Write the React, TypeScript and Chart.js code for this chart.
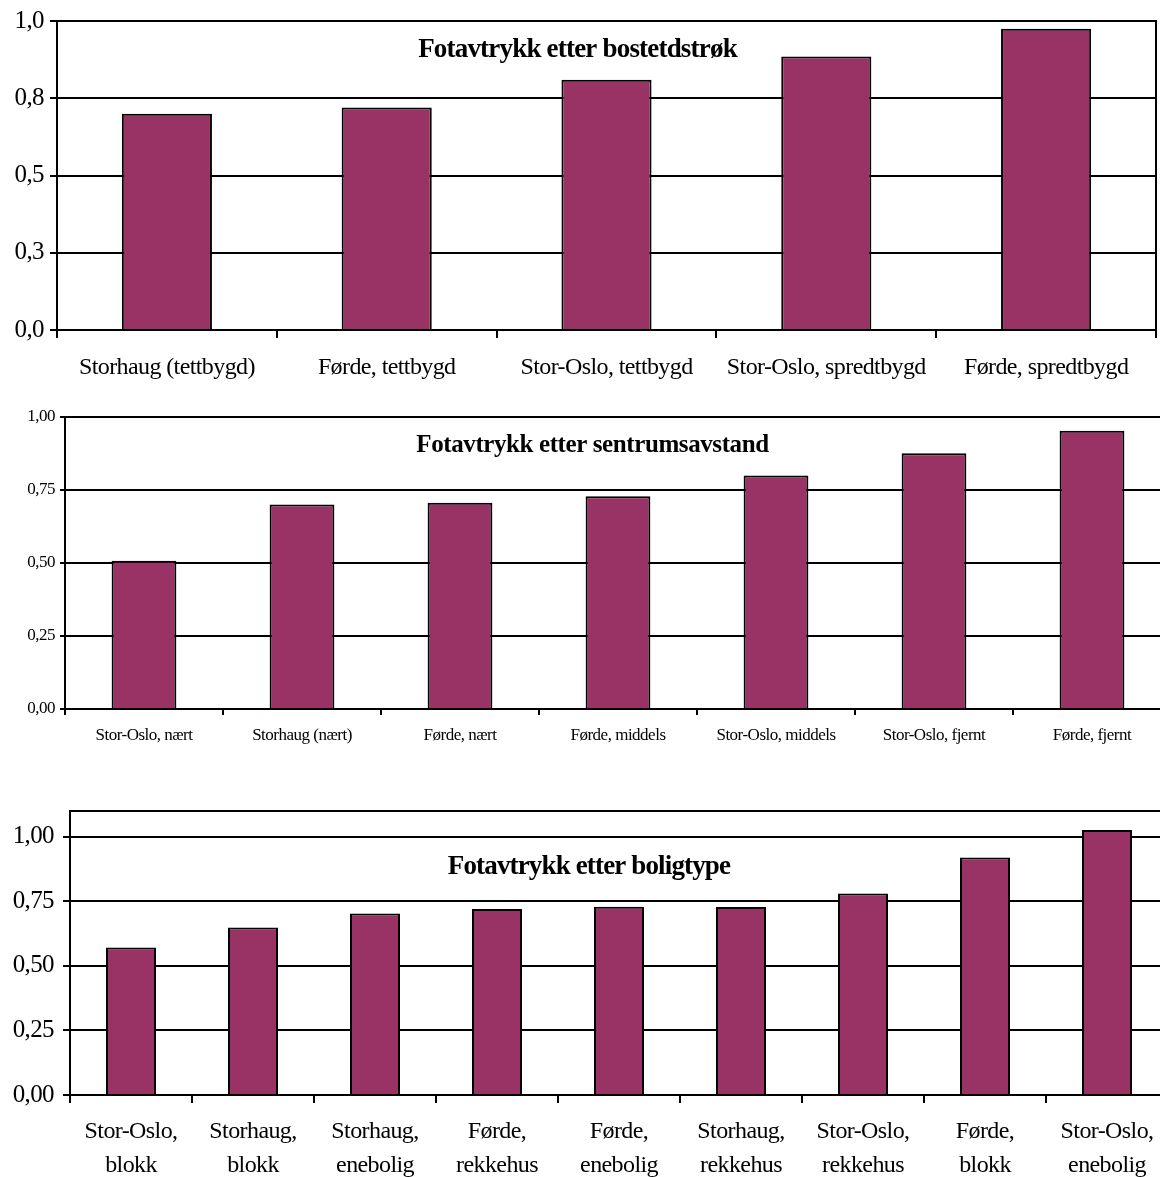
import React, { useEffect, useRef } from 'react';
import { Chart, registerables } from 'chart.js';

Chart.register(...registerables);

const SERIF = "'Liberation Serif', 'Times New Roman', Times, serif";
const BAR_COLOR = '#993366';

// ---- Chart 1: Fotavtrykk etter bostetdstrøk
const title1 = 'Fotavtrykk etter bostetdstrøk';
const categories1 = [
  'Storhaug (tettbygd)',
  'Førde, tettbygd',
  'Stor-Oslo, tettbygd',
  'Stor-Oslo, spredtbygd',
  'Førde, spredtbygd',
];
const values1 = [0.7, 0.72, 0.81, 0.885, 0.975];
const yTicks1 = [0, 0.25, 0.5, 0.75, 1.0];
const yTickLabels1 = ['0,0', '0,3', '0,5', '0,8', '1,0'];

// ---- Chart 2: Fotavtrykk etter sentrumsavstand
const title2 = 'Fotavtrykk etter sentrumsavstand';
const categories2 = [
  'Stor-Oslo, nært',
  'Storhaug (nært)',
  'Førde, nært',
  'Førde, middels',
  'Stor-Oslo, middels',
  'Stor-Oslo, fjernt',
  'Førde, fjernt',
];
const values2 = [0.508, 0.7, 0.706, 0.729, 0.8, 0.876, 0.953];
const yTicks2 = [0, 0.25, 0.5, 0.75, 1.0];
const yTickLabels2 = ['0,00', '0,25', '0,50', '0,75', '1,00'];

// ---- Chart 3: Fotavtrykk etter boligtype
const title3 = 'Fotavtrykk etter boligtype';
const categories3 = [
  ['Stor-Oslo,', 'blokk'],
  ['Storhaug,', 'blokk'],
  ['Storhaug,', 'enebolig'],
  ['Førde,', 'rekkehus'],
  ['Førde,', 'enebolig'],
  ['Storhaug,', 'rekkehus'],
  ['Stor-Oslo,', 'rekkehus'],
  ['Førde,', 'blokk'],
  ['Stor-Oslo,', 'enebolig'],
];
const values3 = [0.571, 0.649, 0.703, 0.72, 0.729, 0.728, 0.78, 0.92, 1.026];
const yTicks3 = [0, 0.25, 0.5, 0.75, 1.0];
const yTickLabels3 = ['0,00', '0,25', '0,50', '0,75', '1,00'];

type PanelCfg = {
  top: number;
  width: number;
  height: number;
  title: string;
  titleSize: number;
  titleSpacing: number;
  titleDx: number;
  titleDy: number;
  labels: any[];
  values: number[];
  yMax: number;
  yTicks: number[];
  yLabels: string[];
  padTop: number;
  padRight: number;
  yWidth: number;
  xHeight: number;
  xFont: number;
  xLineHeight: number;
  xPad: number;
  xTick: number;
  yFont: number;
  yPad: number;
  yTick: number;
  spacing: number;
};

function BarPanel({ cfg }: { cfg: PanelCfg }) {
  const ref = useRef<HTMLCanvasElement>(null);

  useEffect(() => {
    const canvas = ref.current;
    if (!canvas) return;
    const c = cfg;

    const spacingPlugin = {
      id: 'letterSpacing',
      beforeUpdate(chart: any) {
        chart.ctx.letterSpacing = c.spacing + 'px';
      },
      beforeLayout(chart: any) {
        chart.ctx.letterSpacing = c.spacing + 'px';
      },
      beforeDraw(chart: any) {
        chart.ctx.letterSpacing = c.spacing + 'px';
      },
    };

    const boxPlugin = {
      id: 'plotBox',
      afterDraw(chart: any) {
        const { ctx, chartArea: a } = chart;
        ctx.save();
        ctx.strokeStyle = '#000';
        ctx.lineWidth = 2;
        ctx.beginPath();
        ctx.moveTo(a.left, a.top);
        ctx.lineTo(a.right, a.top);
        ctx.lineTo(a.right, a.bottom);
        ctx.stroke();
        ctx.restore();
      },
    };

    const titlePlugin = {
      id: 'innerTitle',
      afterDraw(chart: any) {
        const { ctx, chartArea: a } = chart;
        ctx.save();
        ctx.letterSpacing = c.titleSpacing + 'px';
        ctx.font = `bold ${c.titleSize}px ${SERIF}`;
        ctx.fillStyle = '#000';
        ctx.textAlign = 'center';
        ctx.textBaseline = 'middle';
        ctx.fillText(c.title, a.left + c.titleDx, a.top + c.titleDy);
        ctx.restore();
      },
    };

    const chart = new Chart(canvas, {
      type: 'bar',
      data: {
        labels: c.labels,
        datasets: [
          {
            data: c.values,
            backgroundColor: BAR_COLOR,
            borderColor: '#000',
            borderWidth: 2,
            barPercentage: 0.41,
            categoryPercentage: 1,
          },
        ],
      },
      options: {
        responsive: false,
        animation: false,
        layout: { padding: { top: c.padTop, right: c.padRight, left: 0, bottom: 0 } },
        plugins: {
          legend: { display: false },
          title: { display: false },
          tooltip: { enabled: false },
        },
        scales: {
          x: {
            grid: {
              offset: true,
              drawOnChartArea: false,
              drawTicks: true,
              tickLength: c.xTick,
              color: '#000',
              lineWidth: 2,
            },
            border: { display: true, color: '#000', width: 2 },
            ticks: {
              color: '#000',
              font: { family: SERIF, size: c.xFont, lineHeight: c.xLineHeight },
              padding: c.xPad,
              maxRotation: 0,
              minRotation: 0,
              autoSkip: false,
            },
            afterFit: (s: any) => {
              s.height = c.xHeight;
              s.paddingLeft = 0;
              s.paddingRight = 0;
            },
          },
          y: {
            min: 0,
            max: c.yMax,
            afterBuildTicks: (s: any) => {
              s.ticks = c.yTicks.map((v) => ({ value: v }));
            },
            ticks: {
              color: '#000',
              autoSkip: false,
              font: { family: SERIF, size: c.yFont },
              padding: c.yPad,
              callback: (_v: any, i: number) => c.yLabels[i],
            },
            grid: {
              color: '#000',
              lineWidth: 2,
              drawTicks: true,
              tickLength: c.yTick,
            },
            border: { display: true, color: '#000', width: 2 },
            afterFit: (s: any) => {
              s.width = c.yWidth;
              s.paddingTop = 0;
              s.paddingBottom = 0;
            },
          },
        },
      } as any,
      plugins: [spacingPlugin, boxPlugin, titlePlugin],
    });

    return () => chart.destroy();
  }, [cfg]);

  return (
    <canvas
      ref={ref}
      width={cfg.width}
      height={cfg.height}
      style={{
        position: 'absolute',
        left: 0,
        top: cfg.top,
        width: cfg.width,
        height: cfg.height,
        display: 'block',
      }}
    />
  );
}

const panel1: PanelCfg = {
  top: 0,
  width: 1160,
  height: 392,
  title: title1,
  titleSize: 27,
  titleSpacing: -0.8,
  titleDx: 520.5,
  titleDy: 29,
  labels: categories1,
  values: values1,
  yMax: 1.0,
  yTicks: yTicks1,
  yLabels: yTickLabels1,
  padTop: 21,
  padRight: 4,
  yWidth: 57,
  xHeight: 62,
  xFont: 24,
  xLineHeight: 1.2,
  xPad: 15,
  xTick: 8,
  yFont: 25,
  yPad: 6,
  yTick: 7,
  spacing: -0.6,
};

const panel2: PanelCfg = {
  top: 396,
  width: 1180,
  height: 356,
  title: title2,
  titleSize: 25,
  titleSpacing: -0.4,
  titleDx: 527.5,
  titleDy: 28.5,
  labels: categories2,
  values: values2,
  yMax: 1.0,
  yTicks: yTicks2,
  yLabels: yTickLabels2,
  padTop: 21,
  padRight: 9,
  yWidth: 65,
  xHeight: 43,
  xFont: 17,
  xLineHeight: 1.2,
  xPad: 10,
  xTick: 6,
  yFont: 17,
  yPad: 5,
  yTick: 5,
  spacing: -0.5,
};

const panel3: PanelCfg = {
  top: 796,
  width: 1180,
  height: 381,
  title: title3,
  titleSize: 27,
  titleSpacing: -0.85,
  titleDx: 519,
  titleDy: 56,
  labels: categories3,
  values: values3,
  yMax: 1.1,
  yTicks: yTicks3,
  yLabels: yTickLabels3,
  padTop: 15,
  padRight: 12,
  yWidth: 70,
  xHeight: 82,
  xFont: 24,
  xLineHeight: 1.4,
  xPad: 12,
  xTick: 8,
  yFont: 25,
  yPad: 9,
  yTick: 7,
  spacing: -0.6,
};

export default function App() {
  return (
    <div
      style={{
        position: 'absolute',
        left: 0,
        top: 0,
        width: 1160,
        height: 1177,
        overflow: 'hidden',
        background: '#fff',
      }}
    >
      <BarPanel cfg={panel1} />
      <BarPanel cfg={panel2} />
      <BarPanel cfg={panel3} />
    </div>
  );
}
